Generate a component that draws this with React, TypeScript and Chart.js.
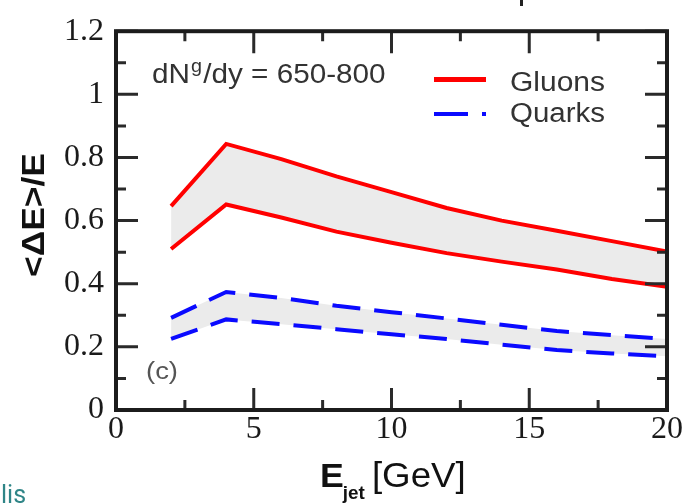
import React, { useEffect, useRef } from "react";
import { Chart, registerables } from "chart.js";

Chart.register(...registerables);

// ---- data ----
const energies = [2, 4, 6, 8, 10, 12, 14, 16, 18, 20];
const gluonHigh = [0.646, 0.843, 0.795, 0.74, 0.69, 0.64, 0.6, 0.568, 0.535, 0.502];
const gluonLow = [0.51, 0.651, 0.61, 0.565, 0.53, 0.497, 0.47, 0.445, 0.415, 0.39];
const quarkHigh = [0.292, 0.374, 0.355, 0.33, 0.31, 0.29, 0.27, 0.25, 0.237, 0.225];
const quarkLow = [0.225, 0.287, 0.272, 0.256, 0.24, 0.225, 0.207, 0.19, 0.179, 0.17];
const seriesNames = ["Gluons", "Quarks"];
const xRange = [0, 20];
const yRange = [0, 1.2];
const xMajorStep = 5;
const xMinorStep = 2.5;
const yMajorStep = 0.2;
const yMinorStep = 0.1;
const annotationMain = ["dN", "g", "/dy = 650-800"];
const panelLabel = "(c)";
const yTitle = "<ΔE>/E";
const xTitleParts = ["E", "jet", " [GeV]"];
const pageFragment = "lis";

const RED = "#ff0000";
const BLUE = "#0a0aff";
const BAND = "#ebebeb";
const FRAME = "#1c1c1c";

function pts(ys: number[]) {
  return energies.map((x, i) => ({ x, y: ys[i] }));
}

function fitText(ctx: CanvasRenderingContext2D, text: string, x: number, y: number, font: string, color: string, width?: number) {
  ctx.save();
  ctx.font = font;
  ctx.fillStyle = color;
  ctx.textBaseline = "alphabetic";
  ctx.textAlign = "left";
  const w = ctx.measureText(text).width;
  ctx.translate(x, y);
  if (width) ctx.scale(width / w, 1);
  ctx.fillText(text, 0, 0);
  ctx.restore();
}

const decorPlugin = {
  id: "decor",
  afterDraw(chart: any) {
    const ctx: CanvasRenderingContext2D = chart.ctx;
    const xs = chart.scales.x;
    const ys = chart.scales.y;
    const { left, right, top, bottom } = chart.chartArea;

    // ticks (inward, both sides)
    ctx.save();
    ctx.strokeStyle = "#2a2a2a";
    ctx.lineWidth = 3;
    ctx.lineCap = "butt";
    const eps = 1e-6;
    for (let v = xRange[0]; v <= xRange[1] + eps; v += xMinorStep) {
      const major = Math.abs(v / xMajorStep - Math.round(v / xMajorStep)) < 1e-6;
      const len = major ? 22 : 10;
      const px = xs.getPixelForValue(v);
      ctx.beginPath();
      ctx.moveTo(px, bottom);
      ctx.lineTo(px, bottom - len);
      ctx.moveTo(px, top);
      ctx.lineTo(px, top + len);
      ctx.stroke();
    }
    for (let v = yRange[0]; v <= yRange[1] + eps; v += yMinorStep) {
      const major = Math.abs(v / yMajorStep - Math.round(v / yMajorStep)) < 1e-6;
      const len = major ? 22 : 10;
      const py = ys.getPixelForValue(v);
      ctx.beginPath();
      ctx.moveTo(left, py);
      ctx.lineTo(left + len, py);
      ctx.moveTo(right, py);
      ctx.lineTo(right - len, py);
      ctx.stroke();
    }
    // frame
    ctx.strokeStyle = FRAME;
    ctx.lineWidth = 4;
    ctx.strokeRect(left, top, right - left, bottom - top);
    ctx.restore();

    // annotation dN^g/dy
    ctx.save();
    ctx.translate(152, 83);
    ctx.scale(1.1, 1);
    ctx.fillStyle = "#333";
    ctx.font = "27px 'Liberation Sans', Arial, sans-serif";
    ctx.fillText(annotationMain[0], 0, 0);
    const w0 = ctx.measureText(annotationMain[0]).width;
    ctx.font = "18px 'Liberation Sans', Arial, sans-serif";
    ctx.fillText(annotationMain[1], w0 + 1, -11);
    const w1 = ctx.measureText(annotationMain[1]).width;
    ctx.font = "27px 'Liberation Sans', Arial, sans-serif";
    ctx.fillText(annotationMain[2], w0 + w1 + 2, 0);
    ctx.restore();

    // legend
    const ds = chart.data.datasets;
    ctx.save();
    ctx.lineCap = "butt";
    ctx.strokeStyle = ds[0].borderColor;
    ctx.lineWidth = 5;
    ctx.beginPath();
    ctx.moveTo(434, 79.5);
    ctx.lineTo(486, 79.5);
    ctx.stroke();
    ctx.strokeStyle = ds[2].borderColor;
    ctx.lineWidth = 4;
    ctx.beginPath();
    ctx.moveTo(434, 114);
    ctx.lineTo(468, 114);
    ctx.moveTo(482, 114);
    ctx.lineTo(486, 114);
    ctx.stroke();
    ctx.restore();
    fitText(ctx, seriesNames[0], 510, 91, "27px 'Liberation Sans', Arial, sans-serif", "#333", 95);
    fitText(ctx, seriesNames[1], 510, 122, "27px 'Liberation Sans', Arial, sans-serif", "#333", 95);

    // panel label
    fitText(ctx, panelLabel, 146, 379, "23px 'Liberation Sans', Arial, sans-serif", "#555", 32);

    // y title
    ctx.save();
    ctx.translate(44, 277);
    ctx.rotate(-Math.PI / 2);
    ctx.font = "bold 31px 'Liberation Sans', Arial, sans-serif";
    const tw = ctx.measureText(yTitle).width;
    ctx.scale(124 / tw, 1);
    ctx.fillStyle = "#111";
    ctx.fillText(yTitle, 0, 0);
    ctx.restore();

    // x title
    ctx.save();
    ctx.fillStyle = "#111";
    ctx.translate(320, 487);
    ctx.scale(1.05, 1);
    ctx.font = "bold 34px 'Liberation Sans', Arial, sans-serif";
    ctx.fillText(xTitleParts[0], 0, 0);
    const we = ctx.measureText(xTitleParts[0]).width;
    ctx.font = "bold 18px 'Liberation Sans', Arial, sans-serif";
    ctx.fillText(xTitleParts[1], we - 1, 12);
    const wj = ctx.measureText(xTitleParts[1]).width;
    ctx.font = "35px 'Liberation Sans', Arial, sans-serif";
    ctx.fillText(xTitleParts[2], we + wj - 4, 0);
    ctx.restore();

    // page fragments
    fitText(ctx, pageFragment, 1, 503, "25px Roboto, 'Noto Sans', sans-serif", "#2f8587");
    ctx.save();
    ctx.fillStyle = "#222";
    ctx.fillRect(520, 0, 3, 6);
    ctx.restore();
  },
};

export default function App() {
  const ref = useRef<HTMLCanvasElement | null>(null);
  useEffect(() => {
    if (!ref.current) return;
    const chart = new Chart(ref.current, {
      type: "line",
      data: {
        datasets: [
          {
            label: seriesNames[0] + " upper",
            data: pts(gluonHigh),
            borderColor: RED,
            borderWidth: 4,
            pointRadius: 0,
            fill: "+1",
            backgroundColor: BAND,
            tension: 0,
          },
          {
            label: seriesNames[0] + " lower",
            data: pts(gluonLow),
            borderColor: RED,
            borderWidth: 4,
            pointRadius: 0,
            fill: false,
            tension: 0,
          },
          {
            label: seriesNames[1] + " upper",
            data: pts(quarkHigh),
            borderColor: BLUE,
            borderWidth: 4,
            borderDash: [28, 14],
            pointRadius: 0,
            fill: "+1",
            backgroundColor: BAND,
            tension: 0,
          },
          {
            label: seriesNames[1] + " lower",
            data: pts(quarkLow),
            borderColor: BLUE,
            borderWidth: 4,
            borderDash: [28, 14],
            pointRadius: 0,
            fill: false,
            tension: 0,
          },
        ],
      },
      options: {
        animation: false,
        responsive: false,
        devicePixelRatio: 1,
        layout: { padding: { left: 0, right: 22, top: 20, bottom: 0 } },
        plugins: {
          legend: { display: false },
          tooltip: { enabled: false },
          filler: { drawTime: "beforeDatasetsDraw" },
        },
        scales: {
          x: {
            type: "linear",
            min: xRange[0],
            max: xRange[1],
            grid: { display: false, drawTicks: false },
            border: { display: false },
            ticks: {
              stepSize: xMajorStep,
              padding: 0,
              color: "#1a1a1a",
              font: { family: "'Liberation Serif', 'Times New Roman', serif", size: 32 },
              maxRotation: 0,
            },
            afterFit: (s: any) => {
              s.height = 94;
            },
          },
          y: {
            type: "linear",
            min: yRange[0],
            max: yRange[1],
            grid: { display: false, drawTicks: false },
            border: { display: false },
            ticks: {
              stepSize: yMajorStep,
              padding: 12,
              color: "#1a1a1a",
              font: { family: "'Liberation Serif', 'Times New Roman', serif", size: 32 },
              callback: (v: any) => String(Number(Number(v).toFixed(1))),
            },
            afterFit: (s: any) => {
              s.width = 116;
            },
          },
        },
      },
      plugins: [decorPlugin],
    });
    return () => chart.destroy();
  }, []);
  return (
    <div style={{ position: "absolute", left: 0, top: 0, width: 689, height: 504, background: "#fff" }}>
      <canvas ref={ref} width={689} height={504} style={{ display: "block", width: 689, height: 504 }} />
    </div>
  );
}
